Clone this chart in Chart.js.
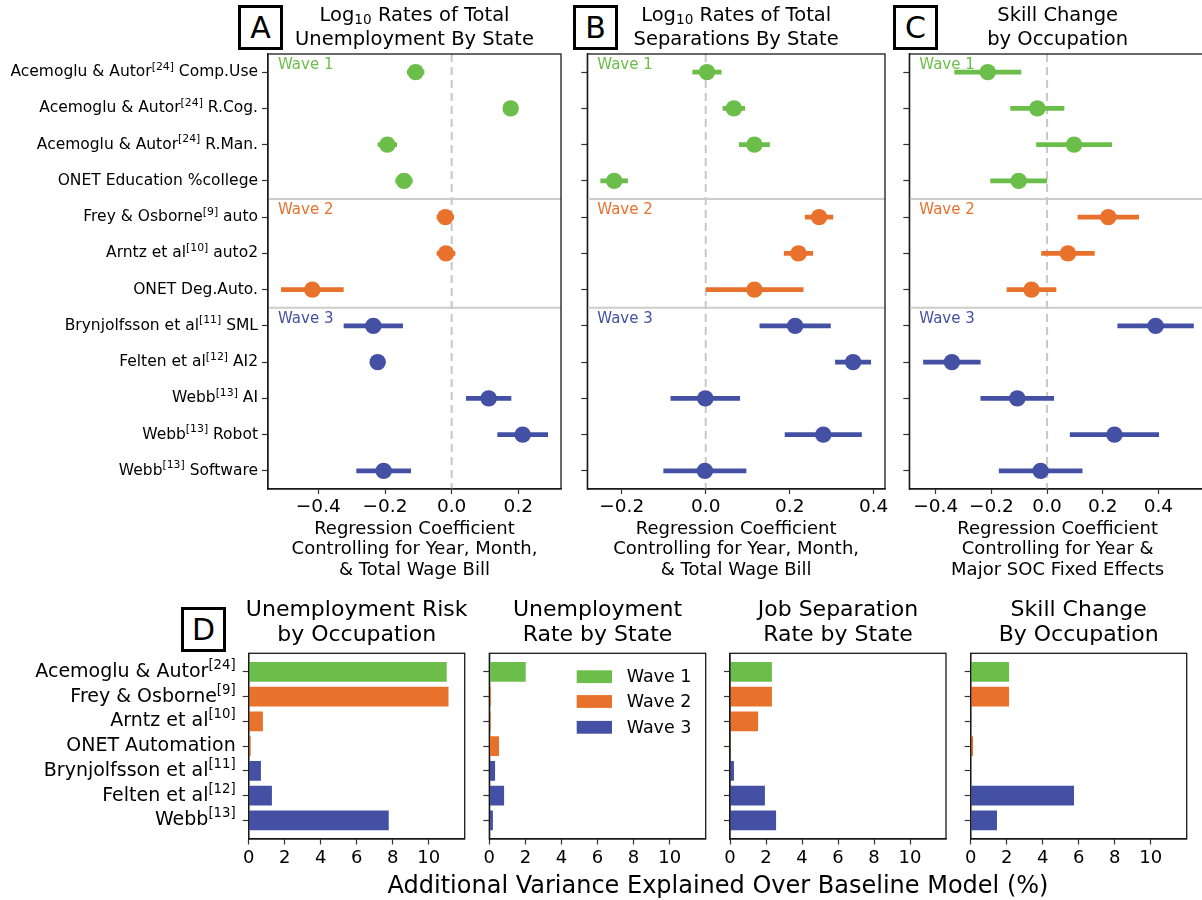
<!DOCTYPE html>
<html><head><meta charset="utf-8">
<script src="https://cdn.jsdelivr.net/npm/chart.js@4.4.1/dist/chart.umd.min.js"></script>
<style>
html,body{margin:0;padding:0;background:#fff;}
body{width:1202px;height:900px;overflow:hidden;position:relative;font-family:'DejaVu Sans';}
canvas.pane{position:absolute;}
.tag{position:absolute;box-sizing:border-box;width:45px;height:45px;border:3px solid #000;font:normal 30px 'DejaVu Sans';display:flex;align-items:center;justify-content:center;color:#000;line-height:1;}
#xlab{position:absolute;left:0;width:1436px;top:871px;text-align:center;font-size:24px;line-height:28px;color:#000;white-space:nowrap;}
</style></head>
<body>
<div class="tag" style="left:238px;top:5px">A</div>
<div class="tag" style="left:573px;top:5px">B</div>
<div class="tag" style="left:893px;top:5px">C</div>
<div class="tag" style="left:181px;top:607px">D</div>
<canvas id="cA" class="pane" width="575" height="600" style="left:0;top:0"></canvas>
<canvas id="cB" class="pane" width="320" height="600" style="left:575px;top:0"></canvas>
<canvas id="cC" class="pane" width="320" height="600" style="left:895px;top:0"></canvas>
<canvas id="cD1" class="pane" width="475" height="310" style="left:0;top:590px"></canvas>
<canvas id="cD2" class="pane" width="240" height="310" style="left:475px;top:590px"></canvas>
<canvas id="cD3" class="pane" width="240" height="310" style="left:715px;top:590px"></canvas>
<canvas id="cD4" class="pane" width="247" height="310" style="left:955px;top:590px"></canvas>
<div id="xlab">Additional Variance Explained Over Baseline Model (%)</div>
<script>
// ---------- DATA ----------
const waveNames = ['Wave 1', 'Wave 2', 'Wave 3'];
const waveColors = ['#6cbe4a', '#e8712c', '#4350a3'];

const measures = ['Acemoglu & Autor[24] Comp.Use', 'Acemoglu & Autor[24] R.Cog.', 'Acemoglu & Autor[24] R.Man.',
  'ONET Education %college', 'Frey & Osborne[9] auto', 'Arntz et al[10] auto2', 'ONET Deg.Auto.',
  'Brynjolfsson et al[11] SML', 'Felten et al[12] AI2', 'Webb[13] AI', 'Webb[13] Robot', 'Webb[13] Software'];
const measureWave = [1, 1, 1, 1, 2, 2, 2, 3, 3, 3, 3, 3];

const unempStateCoef = [-0.108, 0.177, -0.193, -0.143, -0.019, -0.017, -0.418, -0.235, -0.222, 0.111, 0.213, -0.204];
const unempStateErr  = [0.025, 0.020, 0.028, 0.025, 0.025, 0.027, 0.093, 0.088, 0.020, 0.067, 0.075, 0.081];
const sepStateCoef   = [0.003, 0.067, 0.116, -0.218, 0.270, 0.221, 0.116, 0.213, 0.351, -0.001, 0.280, -0.002];
const sepStateErr    = [0.034, 0.026, 0.036, 0.032, 0.033, 0.034, 0.116, 0.084, 0.042, 0.082, 0.091, 0.098];
const skillCoef      = [-0.213, -0.035, 0.097, -0.102, 0.220, 0.075, -0.056, 0.390, -0.342, -0.107, 0.242, -0.023];
const skillErr       = [0.119, 0.096, 0.135, 0.101, 0.109, 0.095, 0.088, 0.136, 0.102, 0.131, 0.159, 0.149];

const ticksA = [-0.4, -0.2, 0.0, 0.2];
const ticksB = [-0.2, 0.0, 0.2, 0.4];
const ticksC = [-0.4, -0.2, 0.0, 0.2, 0.4];

const datasetsD = ['Acemoglu & Autor[24]', 'Frey & Osborne[9]', 'Arntz et al[10]', 'ONET Automation',
  'Brynjolfsson et al[11]', 'Felten et al[12]', 'Webb[13]'];
const datasetWave = [1, 2, 2, 2, 3, 3, 3];
const varUnempOcc   = [11.0, 11.1, 0.79, 0.11, 0.68, 1.29, 7.78];
const varUnempState = [2.02, 0.09, 0.08, 0.54, 0.32, 0.82, 0.20];
const varSepState   = [2.33, 2.33, 1.56, 0.01, 0.22, 1.94, 2.56];
const varSkill      = [2.13, 2.13, 0.04, 0.13, 0.03, 5.74, 1.46];
const ticksVar = [0, 2, 4, 6, 8, 10];

// ---------- HELPERS ----------
const FONT = 'DejaVu Sans';
Chart.defaults.font.family = FONT;
Chart.defaults.color = '#000';

// rich text: "[nn]" -> superscript, "_{nn}" -> subscript
const RICH = /(\[\d+\]|_\{[^}]*\})/;
function richSegs(ctx, text, size) {
  return text.split(RICH).filter(p => p.length).map(p => {
    let kind = 0, s = p;
    if (/^\[\d+\]$/.test(p)) kind = 1;
    else if (/^_\{.*\}$/.test(p)) { kind = -1; s = p.slice(2, -1); }
    const fs = kind ? size * 0.7 : size;
    ctx.font = fs + 'px "' + FONT + '"';
    return { s, kind, fs, w: ctx.measureText(s).width };
  });
}
function richText(ctx, text, x, y, size, color, align) {
  const segs = richSegs(ctx, text, size);
  const total = segs.reduce((t, g) => t + g.w, 0);
  let cx = align === 'center' ? x - total / 2 : x - total;
  ctx.fillStyle = color; ctx.textAlign = 'left'; ctx.textBaseline = 'middle';
  for (const g of segs) {
    ctx.font = g.fs + 'px "' + FONT + '"';
    const dy = g.kind === 1 ? -size * 0.34 : g.kind === -1 ? size * 0.22 : 0;
    ctx.fillText(g.s, cx, y + dy);
    cx += g.w;
  }
}

function makeDeco(cfg) {
  return {
    id: 'deco',
    beforeDatasetsDraw(chart) {
      const { ctx, chartArea: a, scales } = chart;
      ctx.save();
      if (cfg.seps) {
        ctx.strokeStyle = '#cccccc'; ctx.lineWidth = 2;
        cfg.seps.forEach(s => {
          const y = scales.y.getPixelForValue(s);
          ctx.beginPath(); ctx.moveTo(a.left, y); ctx.lineTo(a.right, y); ctx.stroke();
        });
      }
      if (cfg.zero) {
        const x = scales.x.getPixelForValue(0);
        ctx.strokeStyle = '#c8c8c8'; ctx.lineWidth = 2; ctx.setLineDash([8, 5]);
        ctx.beginPath(); ctx.moveTo(x, a.top); ctx.lineTo(x, a.bottom); ctx.stroke();
      }
      ctx.restore();
    },
    afterDraw(chart) {
      const { ctx, chartArea: a, scales } = chart;
      ctx.save();
      ctx.strokeStyle = '#1a1a1a'; ctx.lineWidth = 1.3; ctx.setLineDash([]);
      ctx.strokeRect(a.left, a.top, a.right - a.left, a.bottom - a.top);
      const cx = (a.left + a.right) / 2;
      cfg.title.forEach((t, i) => richText(ctx, t, cx, cfg.titleY[i], cfg.titleSize, '#000', 'center'));
      if (cfg.labels) {
        cfg.labels.forEach((t, i) => {
          richText(ctx, t, a.left - cfg.labelGap, scales.y.getPixelForValue(i), cfg.labelSize, '#000', 'right');
        });
      }
      if (cfg.waveStarts) {
        ctx.font = '15px "' + FONT + '"'; ctx.textAlign = 'left'; ctx.textBaseline = 'middle';
        cfg.waveStarts.forEach((s, k) => {
          ctx.fillStyle = waveColors[k];
          ctx.fillText(waveNames[k], a.left + 10, scales.y.getPixelForValue(s) + 11);
        });
      }
      if (cfg.legend) {
        ctx.font = '17.5px "' + FONT + '"'; ctx.textAlign = 'left'; ctx.textBaseline = 'middle';
        const rows = [23.4, 48.2, 74];
        waveNames.forEach((n, k) => {
          const y = a.top + rows[k];
          ctx.fillStyle = waveColors[k];
          ctx.fillRect(a.left + 87.4, y - 6.4, 35.3, 12.8);
          ctx.fillStyle = '#000';
          ctx.fillText(n, a.left + 137.4, y + 1);
        });
      }
      ctx.restore();
    }
  };
}

const fmtCoef = v => (v === 0 ? '0.0' : (v < 0 ? '\u2212' : '') + Math.abs(v).toFixed(1));

function coefChart(id, coef, err, ticks, xmin, xmax, title, xlabel, showLabels, g) {
  const colors = measureWave.map(w => waveColors[w - 1]);
  return new Chart(document.getElementById(id), {
    type: 'bar',
    data: {
      labels: measures,
      datasets: [
        { type: 'bar', indexAxis: 'y', data: coef.map((v, i) => [v - err[i], v + err[i]]),
          backgroundColor: colors, borderWidth: 0, barThickness: 4, order: 2 },
        { type: 'line', indexAxis: 'y', data: coef, showLine: false, pointRadius: 8.2, pointHoverRadius: 8.2,
          pointBackgroundColor: colors, pointBorderWidth: 0, order: 1 }
      ]
    },
    options: {
      indexAxis: 'y', responsive: false, animation: false, events: [],
      layout: { padding: { left: 0, top: 54, right: g.right, bottom: 19.75 } },
      scales: {
        x: {
          type: 'linear', min: xmin, max: xmax,
          afterBuildTicks: s => { s.ticks = ticks.map(v => ({ value: v })); },
          afterFit: s => { s.height = 91.25; },
          ticks: { callback: fmtCoef, font: { size: 18.5 }, color: '#000', padding: 1.6, maxRotation: 0, autoSkip: false },
          grid: { drawOnChartArea: false, tickLength: 5, color: '#333', tickWidth: 1.2 },
          border: { color: '#1a1a1a', width: 1.3 },
          title: { display: true, text: xlabel, font: { size: 18, lineHeight: 1.14 }, color: '#000', padding: { top: 0, bottom: 0 } }
        },
        y: {
          type: 'category', offset: true,
          afterFit: s => { s.width = g.yw; },
          ticks: { display: false },
          grid: { drawOnChartArea: false, tickLength: 6, color: '#333', offset: false, tickWidth: 1.2 },
          border: { color: '#1a1a1a', width: 1.3 }
        }
      },
      plugins: { legend: { display: false }, tooltip: { enabled: false } }
    },
    plugins: [makeDeco({
      title, titleSize: 19.5, titleY: [16, 40],
      labels: showLabels ? measures : null, labelSize: 15.5, labelGap: 10,
      seps: [3.5, 6.5], zero: true, waveStarts: [-0.5, 3.5, 6.5]
    })]
  });
}

coefChart('cA', unempStateCoef, unempStateErr, ticksA, -0.551, 0.328,
  ['Log_{10} Rates of Total', 'Unemployment By State'],
  ['Regression Coefficient', 'Controlling for Year, Month,', '& Total Wage Bill'], true, { yw: 268, right: 14 });
coefChart('cB', sepStateCoef, sepStateErr, ticksB, -0.282, 0.427,
  ['Log_{10} Rates of Total', 'Separations By State'],
  ['Regression Coefficient', 'Controlling for Year, Month,', '& Total Wage Bill'], false, { yw: 12.3, right: 10 });
coefChart('cC', skillCoef, skillErr, ticksC, -0.495, 0.571,
  ['Skill Change', 'by Occupation'],
  ['Regression Coefficient', 'Controlling for Year &', 'Major SOC Fixed Effects'], false, { yw: 14.3, right: 9 });

function varChart(id, values, title, showLabels, legend, g) {
  const colors = datasetWave.map(w => waveColors[w - 1]);
  return new Chart(document.getElementById(id), {
    type: 'bar',
    data: {
      datasets: [{ data: values.map((v, i) => ({ x: v, y: i })), backgroundColor: colors, borderWidth: 0,
        categoryPercentage: 1, barPercentage: 0.8 }]
    },
    options: {
      indexAxis: 'y', responsive: false, animation: false, events: [],
      layout: { padding: { left: 0, top: 63.3, right: g.right, bottom: 0 } },
      scales: {
        x: {
          type: 'linear', min: 0, max: 12,
          afterBuildTicks: s => { s.ticks = ticksVar.map(v => ({ value: v })); },
          afterFit: s => { s.height = 61; },
          ticks: { font: { size: 18 }, color: '#000', padding: 3, maxRotation: 0, autoSkip: false },
          grid: { drawOnChartArea: false, tickLength: 5.5, color: '#333', tickWidth: 1.2 },
          border: { color: '#1a1a1a', width: 1.3 }
        },
        y: {
          type: 'linear', min: -0.75, max: 6.75, reverse: true, offset: false,
          afterBuildTicks: s => { s.ticks = datasetsD.map((d, i) => ({ value: i })); },
          afterFit: s => { s.width = g.yw; },
          ticks: { display: false },
          grid: { drawOnChartArea: false, tickLength: 6, color: '#333', tickWidth: 1.2, offset: false },
          border: { color: '#1a1a1a', width: 1.3 }
        }
      },
      plugins: { legend: { display: false }, tooltip: { enabled: false } }
    },
    plugins: [makeDeco({
      title, titleSize: 22, titleY: [20.7, 45.7],
      labels: showLabels ? datasetsD : null, labelSize: 19, labelGap: 13,
      legend
    })]
  });
}

varChart('cD1', varUnempOcc, ['Unemployment Risk', 'by Occupation'], true, false, { yw: 248.7, right: 10.3 });
varChart('cD2', varUnempState, ['Unemployment', 'Rate by State'], false, true, { yw: 14.3, right: 9.3 });
varChart('cD3', varSepState, ['Job Separation', 'Rate by State'], false, false, { yw: 15, right: 9 });
varChart('cD4', varSkill, ['Skill Change', 'By Occupation'], false, false, { yw: 15.7, right: 15.3 });
</script>
</body></html>
